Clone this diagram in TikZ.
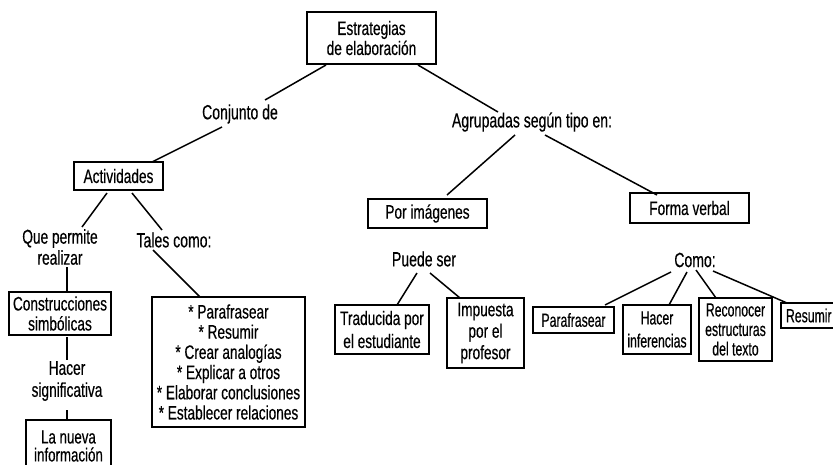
\documentclass[tikz,border=0pt]{standalone}
\usepackage{fontspec}
\setmainfont[FakeStretch=0.70,FakeBold=0.4]{Liberation Sans}
\newfontfamily\lblfont[FakeStretch=0.685,FakeBold=0.4]{Liberation Sans}
\newfontfamily\narrowfont[FakeStretch=0.645,FakeBold=0.4]{Liberation Sans}
\begin{document}
\begin{tikzpicture}[x=1pt,y=-1pt,
  box/.style={draw, line width=1.7pt, inner sep=0pt, align=center},
  lbl/.style={inner sep=0pt, align=center},
  big/.style={font=\fontsize{19.5}{20}\selectfont},
  lblf/.style={font=\lblfont\fontsize{20.5}{21}\selectfont},
  sml/.style={font=\narrowfont\fontsize{19}{19.5}\selectfont},
  conn/.style={line width=1.5pt}]
\useasboundingbox (0,0) rectangle (833,464);
\clip (0,0) rectangle (833,464);
% boxes
\node[box,big,minimum width=129pt,minimum height=52pt] (top) at (371.5,38) {Estrategias\\de elaboración};
\node[box,big,minimum width=89pt,minimum height=28pt] (act) at (118.5,176) {Actividades};
\node[box,font=\fontsize{19.5}{20}\selectfont,minimum width=102pt,minimum height=43pt] (cons) at (60,313.5) {Construcciones\\simbólicas};
\node[box,font=\fontsize{19}{18}\selectfont,minimum width=85pt,minimum height=52pt] (nueva) at (68.5,446) {La nueva\\información};
\node[box,font=\fontsize{19.5}{20.2}\selectfont,minimum width=153pt,minimum height=130pt] (list) at (228.5,362) {* Parafrasear\\* Resumir\\* Crear analogías\\* Explicar a otros\\* Elaborar conclusiones\\* Establecer relaciones};
\node[box,big,minimum width=119pt,minimum height=29pt] (img) at (427.5,213.5) {Por imágenes};
\node[box,big,minimum width=119pt,minimum height=30pt] (verbal) at (689.5,208) {Forma verbal};
\node[box,font=\fontsize{19.5}{23}\selectfont,minimum width=94pt,minimum height=49pt] (trad) at (382,329.5) {Traducida por\\el estudiante};
\node[box,font=\fontsize{19.5}{21.5}\selectfont,minimum width=77pt,minimum height=70pt] (imp) at (485.5,333) {Impuesta\\por el\\profesor};
\node[box,sml,minimum width=81pt,minimum height=26pt] (para) at (573.5,320) {Parafrasear};
\node[box,font=\narrowfont\fontsize{19}{23}\selectfont,minimum width=68pt,minimum height=49pt] (hinf) at (657,329.5) {Hacer\\inferencias};
\node[box,sml,minimum width=73pt,minimum height=63pt] (recon) at (735.5,329.5) {Reconocer\\estructuras\\del texto};
\node[box,sml,minimum width=57pt,minimum height=25pt,text width=57pt,align=left] (resu) at (809.5,315.5) {\hspace*{5pt}Resumir};
% labels
\node[lbl,lblf] (conj) at (240,114) {Conjunto de};
\node[lbl,font=\lblfont\fontsize{20}{21}\selectfont] (qpr) at (60,247) {Que permite\\realizar};
\node[lbl,lblf] (tales) at (174,240) {Tales como:};
\node[lbl,font=\lblfont\fontsize{20}{22}\selectfont] (hacer) at (67,381) {Hacer\\significativa};
\node[lbl,lblf] (agr) at (532,122) {Agrupadas según tipo en:};
\node[lbl,lblf] (puede) at (424,259) {Puede ser};
\node[lbl,lblf] (como) at (695,260) {Como:};
% connectors
\draw[conn] ([shift={(-45.5,27)}]top.center) -- ([shift={(25,-14)}]conj.center);
\draw[conn] ([shift={(-18,13)}]conj.center) -- ([shift={(33.5,-14)}]act.center);
\draw[conn] ([shift={(-11.5,17)}]act.center) -- ([shift={(22,-20)}]qpr.center);
\draw[conn] ([shift={(13.5,17)}]act.center) -- ([shift={(-12,-10)}]tales.center);
\draw[conn] ([shift={(7,20)}]qpr.center) -- ([shift={(7,-21.5)}]cons.center);
\draw[conn] ([shift={(7,23.5)}]cons.center) -- ([shift={(0,-21)}]hacer.center);
\draw[conn] ([shift={(0,29)}]hacer.center) -- ([shift={(-1.5,-26)}]nueva.center);
\draw[conn] ([shift={(-21,10)}]tales.center) -- ([shift={(-28.5,-65)}]list.center);
\draw[conn] ([shift={(46.5,27)}]top.center) -- ([shift={(-34,-10)}]agr.center);
\draw[conn] ([shift={(-17,13)}]agr.center) -- ([shift={(19.5,-18.5)}]img.center);
\draw[conn] ([shift={(13,13)}]agr.center) -- ([shift={(-32.5,-13)}]verbal.center);
\draw[conn] ([shift={(-7,14)}]puede.center) -- ([shift={(15,-24.5)}]trad.center);
\draw[conn] ([shift={(6,14)}]puede.center) -- ([shift={(-25.5,-35)}]imp.center);
\draw[conn] ([shift={(-24,12)}]como.center) -- ([shift={(31.5,-15)}]para.center);
\draw[conn] ([shift={(-8,12)}]como.center) -- ([shift={(12,-24.5)}]hinf.center);
\draw[conn] ([shift={(1,10)}]como.center) -- ([shift={(-19.5,-31.5)}]recon.center);
\draw[conn] ([shift={(18,11)}]como.center) -- ([shift={(-22.5,-12.5)}]resu.center);
\end{tikzpicture}
\end{document}
